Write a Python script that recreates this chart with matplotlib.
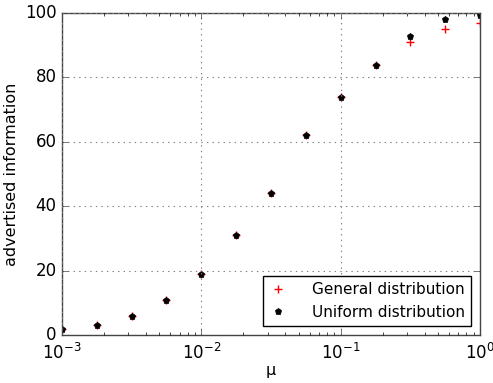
import numpy as np
import matplotlib.pyplot as plt

# mu values and advertised information (%)
mu = [0.001, 0.00178, 0.00316, 0.00562, 0.01, 0.0178, 0.0316, 0.0562,
      0.1, 0.178, 0.316, 0.562, 1.0]
general = [2, 3, 6, 11, 19, 31, 44, 62, 74, 84, 91, 95, 97]
uniform = [2, 3, 6, 11, 19, 31, 44, 62, 74, 84, 93, 98, 99.4]

plt.style.use('classic')
plt.rcParams['font.family'] = 'DejaVu Sans'

fig = plt.figure(figsize=(4.93, 3.83), dpi=100, facecolor='white')
ax = fig.add_axes([62/493, 48/383, 418/493, 322/383])

ax.plot(mu, general, 'r+', markersize=6, mew=1, label='General distribution')
ax.plot(mu, uniform, 'kp', markersize=5, label='Uniform distribution')

ax.set_xscale('log')
ax.set_xlim(1e-3, 1)
ax.set_ylim(0, 100)
ax.set_yticks([0, 20, 40, 60, 80, 100])
ax.grid(True, color='gray', linestyle=':', linewidth=0.8)
for s in ax.spines.values():
    s.set_color('#444444')
ax.tick_params(labelsize=12, colors='#444444', labelcolor='black')
ax.tick_params(axis='x', pad=6)
ax.set_xlabel('μ', fontsize=11.5, labelpad=0)
ax.set_ylabel('advertised information', fontsize=11.5, labelpad=4)
ax.legend(loc='lower right', numpoints=1, fontsize=11, handlelength=1.2,
          handletextpad=1.6, borderaxespad=0.6)

fig.savefig('out.png', dpi=100, facecolor='white')
